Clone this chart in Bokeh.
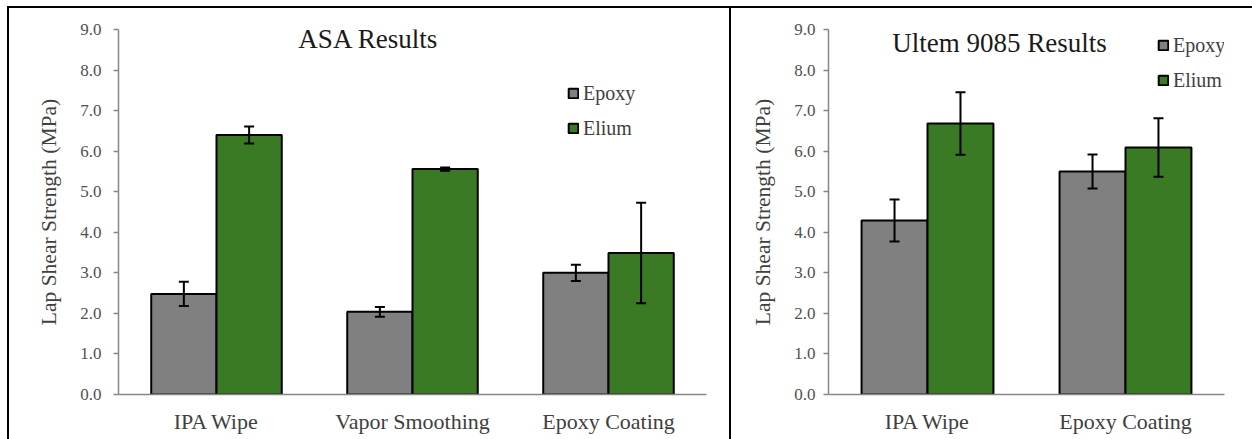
from bokeh.plotting import figure
from bokeh.layouts import row, column
from bokeh.models import (ColumnDataSource, FactorRange, Range1d, FixedTicker,
                          NumeralTickFormatter, Whisker, TeeHead, Legend, LegendItem,
                          Label, Div)
from bokeh.transform import dodge
from bokeh.embed import file_html
from bokeh.resources import INLINE

# ---------------- data ----------------
asa_categories = ["IPA Wipe", "Vapor Smoothing", "Epoxy Coating"]
asa_epoxy = [2.48, 2.04, 3.00]
asa_epoxy_err = [0.30, 0.12, 0.20]
asa_elium = [6.40, 5.56, 3.49]
asa_elium_err = [0.21, 0.04, 1.24]

ultem_categories = ["IPA Wipe", "Epoxy Coating"]
ultem_epoxy = [4.29, 5.50]
ultem_epoxy_err = [0.52, 0.42]
ultem_elium = [6.68, 6.09]
ultem_elium_err = [0.77, 0.72]

y_ticks = [0, 1, 2, 3, 4, 5, 6, 7, 8, 9]
series_names = ["Epoxy", "Elium"]
series_colors = ["#808080", "#3B7A24"]

FONT = "Liberation Serif"
PH = 431  # panel height (below the top frame line)


def make_panel(title, cats, ep, ep_err, el, el_err, width, b_left, b_right, b_top,
               title_xy, legend_xy, tick_standoff, label_standoff):
    src = ColumnDataSource(dict(
        cat=cats, ep=ep, el=el,
        ep_lo=[v - e for v, e in zip(ep, ep_err)], ep_hi=[v + e for v, e in zip(ep, ep_err)],
        el_lo=[v - e for v, e in zip(el, el_err)], el_hi=[v + e for v, e in zip(el, el_err)],
    ))
    p = figure(width=width, height=PH, x_range=FactorRange(*cats), y_range=Range1d(0, 9),
               output_backend="svg", toolbar_location=None,
               min_border_left=b_left, min_border_right=b_right,
               min_border_top=b_top, min_border_bottom=45)
    p.outline_line_color = None
    p.xgrid.grid_line_color = None
    p.ygrid.grid_line_color = None
    p.background_fill_color = "white"
    p.border_fill_color = "white"

    bw = 0.333
    r_ep = p.vbar(x=dodge("cat", -bw / 2, range=p.x_range), top="ep", width=bw, source=src,
                  fill_color=series_colors[0], line_color="black", line_width=2)
    r_el = p.vbar(x=dodge("cat", bw / 2, range=p.x_range), top="el", width=bw, source=src,
                  fill_color=series_colors[1], line_color="black", line_width=2)

    for key, off in (("ep", -bw / 2), ("el", bw / 2)):
        w = Whisker(base=dodge("cat", off, range=p.x_range), upper=key + "_hi", lower=key + "_lo",
                    source=src, line_color="black", line_width=2, level="overlay",
                    upper_head=TeeHead(size=10, line_color="black", line_width=2),
                    lower_head=TeeHead(size=10, line_color="black", line_width=2))
        p.add_layout(w)

    # axes
    p.yaxis.ticker = FixedTicker(ticks=y_ticks)
    p.yaxis.formatter = NumeralTickFormatter(format="0.0")
    p.yaxis.axis_label = "Lap Shear Strength (MPa)"
    xa = p.xaxis[0]
    ya = p.yaxis[0]
    for ax in (xa, ya):
        ax.axis_line_color = "#868686"
        ax.axis_line_width = 1.5
        ax.minor_tick_line_color = None
        ax.major_label_text_color = "#505050"
        ax.major_label_text_font_style = "normal"
        ax.major_label_text_font = FONT
    ya.axis_label_text_font = FONT
    ya.major_tick_line_color = "#868686"
    ya.major_tick_line_width = 1.5
    ya.major_tick_in = 0
    ya.major_tick_out = 5
    ya.major_label_standoff = tick_standoff
    ya.major_label_text_font_size = "17px"
    ya.axis_label_text_font_size = "21.5px"
    ya.axis_label_text_font_style = "normal"
    ya.axis_label_text_color = "#404040"
    ya.axis_label_standoff = label_standoff
    xa.major_tick_line_color = None
    xa.major_tick_out = 0
    xa.major_tick_in = 0
    xa.major_label_standoff = 14
    xa.major_label_text_font_size = "22px"
    xa.major_label_text_color = "#404040"

    # title
    p.add_layout(Label(x=title_xy[0], y=title_xy[1], x_units="screen", y_units="screen",
                       text=title, text_font=FONT, text_font_size="27px",
                       text_color="#1a1a1a", text_align="center",
                       text_baseline="alphabetic"))

    # legend
    leg = Legend(items=[LegendItem(label=series_names[0], renderers=[r_ep]),
                        LegendItem(label=series_names[1], renderers=[r_el])],
                 location=legend_xy, orientation="vertical",
                 glyph_width=12, glyph_height=12, label_height=24, spacing=11,
                 label_standoff=4, padding=0, margin=0,
                 label_text_font=FONT, label_text_font_size="20px",
                 label_text_color="#404040",
                 background_fill_alpha=0, border_line_alpha=0)
    p.add_layout(leg)
    return p


p1 = make_panel("ASA Results", asa_categories, asa_epoxy, asa_epoxy_err, asa_elium, asa_elium_err,
                width=720, b_left=109, b_right=23, b_top=21,
                title_xy=(250, 356), legend_xy=(449, 254), tick_standoff=12, label_standoff=16)
p2 = make_panel("Ultem 9085 Results", ultem_categories, ultem_epoxy, ultem_epoxy_err,
                ultem_elium, ultem_elium_err,
                width=521, b_left=97, b_right=28, b_top=17,
                title_xy=(171, 352), legend_xy=(329, 302), tick_standoff=8, label_standoff=16)


def block(w, h, color):
    return Div(text="", width=w, height=h, margin=0,
               styles={"background-color": color, "overflow": "hidden", "padding": "0"})


layout = column(
    block(1252, 6, "white"),
    row(block(7, 2, "white"), block(1245, 2, "black"), spacing=0),
    row(block(7, PH, "white"), block(2, PH, "black"), p1, block(2, PH, "black"), p2, spacing=0),
    spacing=0,
)
open("out.html", "w").write(file_html(layout, INLINE))
